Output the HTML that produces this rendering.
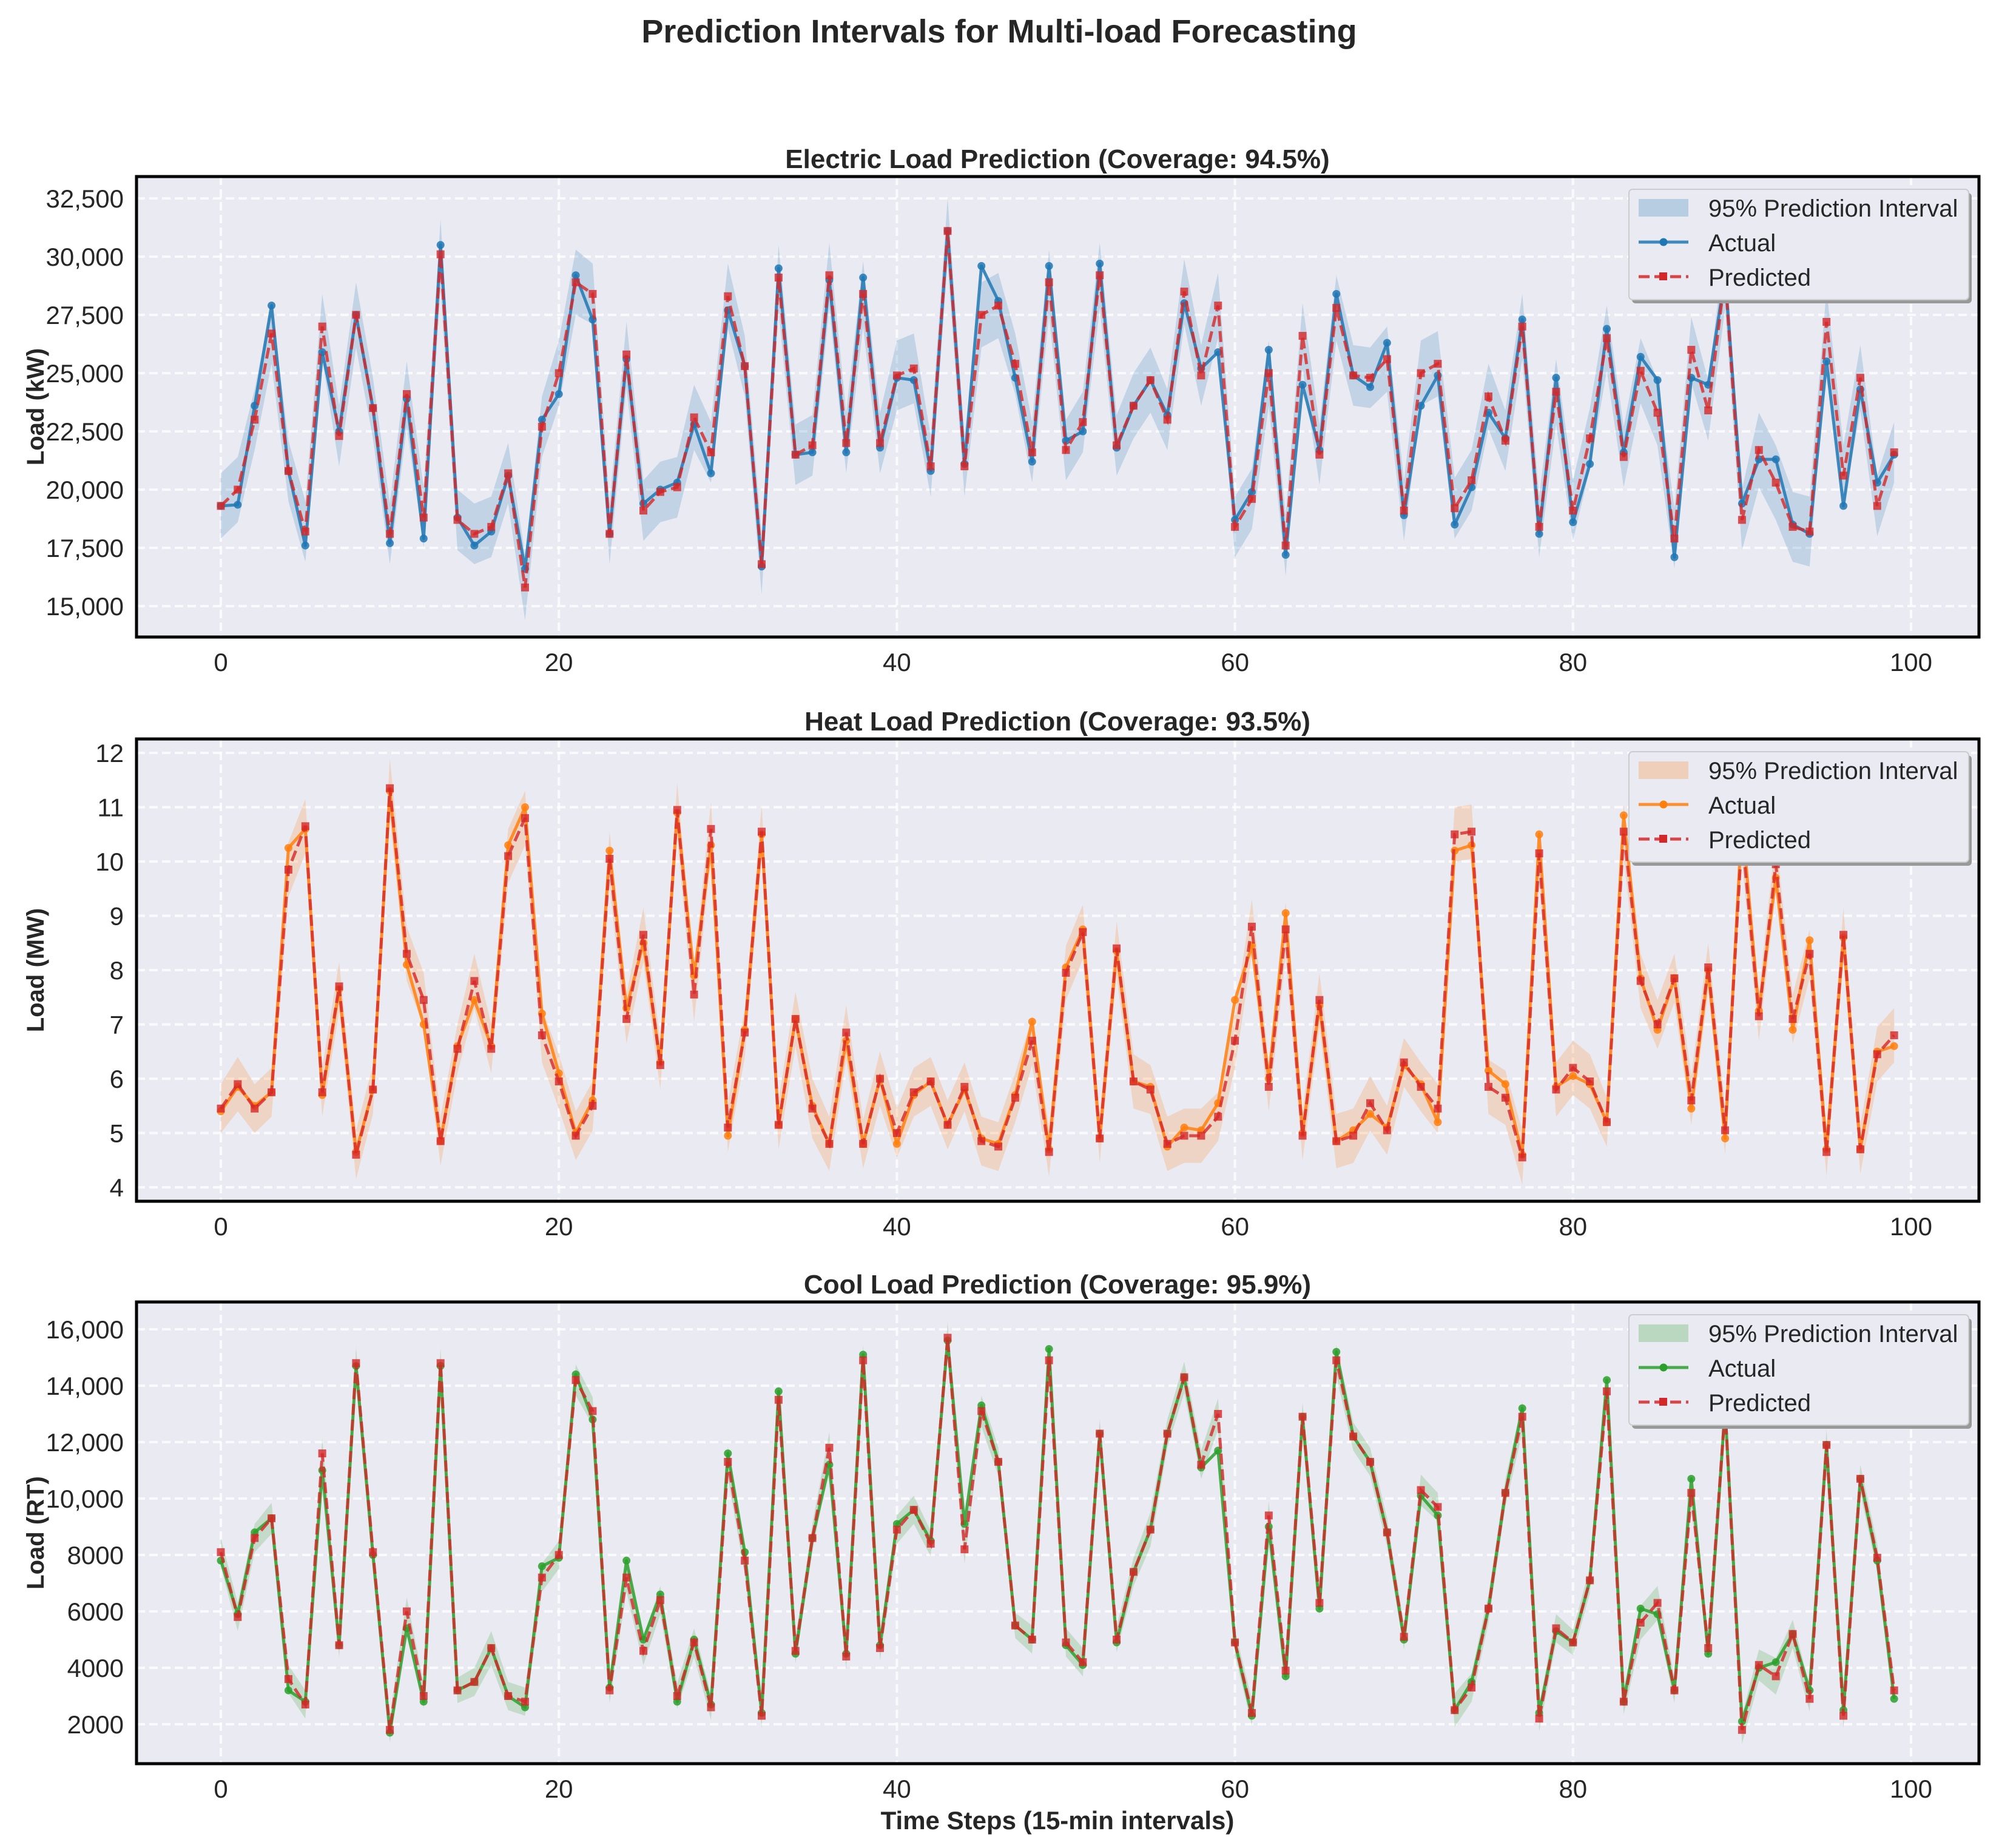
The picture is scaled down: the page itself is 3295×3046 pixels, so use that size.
<!DOCTYPE html>
<html><head><meta charset="utf-8"><style>
html,body{margin:0;padding:0;background:#fff}
svg{display:block}
text{font-family:"Liberation Sans",Arial,sans-serif;fill:#262626}
</style></head><body>
<svg id="fig" width="3295" height="3046" viewBox="0 0 3295 3046" xmlns="http://www.w3.org/2000/svg">
<text x="1647" y="70" text-anchor="middle" font-size="54" font-weight="bold">Prediction Intervals for Multi-load Forecasting</text>
<text x="1743" y="3015" text-anchor="middle" font-size="42" font-weight="bold">Time Steps (15-min intervals)</text>
</svg>
<script>
const steps = Array.from({length:100},(_,i)=>i);
const xTicks = [0,20,40,60,80,100];

const elecActual = [19300,19350,23600,27900,20800,17600,25900,22500,27500,23500,17700,23900,17900,30500,18800,17600,18200,20600,16600,23000,24100,29200,27300,18100,25600,19400,20000,20300,22800,20700,27700,25300,16700,29500,21500,21600,29000,21600,29100,21800,24800,24700,20800,31100,21100,29600,28100,24800,21200,29600,22100,22500,29700,21800,23600,24700,23200,28000,25200,25900,18700,19900,26000,17200,24500,21700,28400,24900,24400,26300,18900,23600,24900,18500,20100,23300,22200,27300,18100,24800,18600,21100,26900,21600,25700,24700,17100,24800,24500,29200,19400,21300,21300,18500,18100,25500,19300,24300,20300,21500];
const elecPred = [19300,20000,23000,26700,20800,18200,27000,22300,27500,23500,18100,24100,18800,30100,18700,18100,18400,20700,15800,22700,25000,28900,28400,18100,25800,19100,19900,20100,23100,21600,28300,25300,16800,29100,21500,21900,29200,22000,28400,22000,24900,25200,21000,31100,21000,27500,27900,25400,21600,28900,21700,22900,29200,21900,23600,24700,23000,28500,24900,27900,18400,19600,25000,17600,26600,21500,27800,24900,24800,25600,19100,25000,25400,19200,20400,24000,22100,27000,18400,24200,19100,22200,26500,21400,25100,23300,17900,26000,23400,29200,18700,21700,20300,18400,18200,27200,20600,24800,19300,21600];
const elecBand = [1400,1400,1300,1300,1300,1300,1400,1300,1400,1300,1300,1400,1300,1500,1300,1300,1300,1300,1400,1300,1400,1400,1300,1300,1400,1300,1300,1300,1400,1300,1400,1300,1300,1400,1300,1300,1400,1300,1400,1300,1500,1500,1300,1400,1300,1400,1400,1300,1300,1400,1300,1300,1400,1300,1400,1400,1300,1400,1300,1400,1300,1300,1400,1300,1400,1300,1400,1300,1300,1400,1300,1400,1400,1300,1300,1400,1300,1400,1300,1400,1300,1300,1400,1300,1400,1400,1300,1400,1300,1400,1300,1600,1600,1500,1500,1400,1300,1400,1300,1300];

const heatActual = [5.4,5.85,5.5,5.75,10.25,10.6,5.7,7.65,4.65,5.8,11.3,8.1,7.0,4.85,6.6,7.45,6.6,10.3,11.0,7.2,6.1,5.0,5.6,10.2,7.3,8.5,6.3,10.9,7.9,10.3,4.95,6.9,10.5,5.15,7.1,5.5,4.8,6.7,4.8,6.0,4.8,5.7,5.95,5.15,5.8,4.9,4.8,5.7,7.05,4.7,8.05,8.75,4.9,8.35,5.95,5.85,4.75,5.1,5.05,5.55,7.45,8.45,6.0,9.05,5.0,7.35,4.85,5.05,5.35,5.1,6.25,5.9,5.2,10.2,10.3,6.15,5.9,4.6,10.5,5.85,6.05,5.9,5.2,10.85,7.85,6.9,7.85,5.45,8.0,4.9,10.8,7.25,9.7,6.9,8.55,4.7,8.6,4.7,6.5,6.6];
const heatPred = [5.45,5.9,5.45,5.75,9.85,10.65,5.75,7.7,4.6,5.8,11.35,8.3,7.45,4.85,6.55,7.8,6.55,10.1,10.8,6.8,5.95,4.95,5.5,10.05,7.1,8.65,6.25,10.95,7.55,10.6,5.1,6.85,10.55,5.15,7.1,5.45,4.8,6.85,4.8,6.0,5.0,5.75,5.95,5.15,5.85,4.85,4.75,5.65,6.7,4.65,7.95,8.7,4.9,8.4,5.95,5.8,4.8,4.95,4.95,5.3,6.7,8.8,5.85,8.75,4.95,7.45,4.85,4.95,5.55,5.05,6.3,5.85,5.45,10.5,10.55,5.85,5.65,4.55,10.15,5.8,6.2,5.95,5.2,10.55,7.8,7.0,7.85,5.6,8.05,5.05,10.5,7.15,9.95,7.1,8.3,4.65,8.65,4.7,6.45,6.8];
const heatBand = [0.45,0.5,0.45,0.45,0.5,0.5,0.45,0.45,0.45,0.45,0.55,0.5,0.5,0.45,0.45,0.5,0.45,0.5,0.5,0.5,0.5,0.45,0.45,0.5,0.45,0.5,0.45,0.5,0.5,0.5,0.45,0.45,0.5,0.45,0.5,0.55,0.5,0.5,0.45,0.5,0.45,0.45,0.45,0.45,0.45,0.45,0.45,0.45,0.45,0.45,0.5,0.5,0.45,0.5,0.5,0.45,0.5,0.5,0.5,0.45,0.5,0.5,0.45,0.5,0.45,0.5,0.5,0.5,0.5,0.45,0.45,0.45,0.45,0.5,0.5,0.5,0.5,0.5,0.5,0.5,0.5,0.5,0.45,0.5,0.5,0.45,0.45,0.45,0.45,0.45,0.5,0.45,0.5,0.45,0.45,0.45,0.5,0.45,0.5,0.5];

const coolActual = [7800,5900,8800,9300,3200,2800,11000,4800,14700,8000,1700,5400,2800,14700,3200,3500,4700,3000,2600,7600,7900,14400,12800,3300,7800,5000,6600,2800,5000,2700,11600,8100,2400,13800,4500,8600,11200,4500,15100,4800,9100,9600,8500,15600,9100,13300,11300,5500,5000,15300,4800,4100,12300,4900,7400,8900,12300,14300,11100,11700,4900,2300,9000,3700,12900,6100,15200,12200,11300,8800,5000,10100,9400,2500,3500,6100,10200,13200,2400,5300,4900,7100,14200,2800,6100,5900,3200,10700,4500,13200,2100,4000,4200,5200,3200,11900,2500,10700,7800,2900];
const coolPred = [8100,5800,8600,9300,3600,2700,11600,4800,14800,8100,1800,6000,3000,14800,3200,3500,4700,3000,2800,7200,8000,14200,13100,3200,7200,4600,6400,3000,4900,2600,11300,7800,2300,13500,4600,8600,11800,4400,14900,4700,8900,9600,8400,15700,8200,13100,11300,5500,5000,14900,4900,4200,12300,5000,7400,8900,12300,14300,11200,13000,4900,2400,9400,3900,12900,6300,14900,12200,11300,8800,5100,10300,9700,2500,3300,6100,10200,12900,2200,5400,4900,7100,13800,2800,5600,6300,3200,10200,4700,13200,1800,4100,3700,5200,2900,11900,2300,10700,7900,3200];
const coolBand = [500,500,500,550,500,500,550,450,550,500,450,500,450,550,450,500,600,500,500,500,500,550,500,450,500,500,500,450,500,450,550,500,450,550,450,500,550,450,550,450,500,500,450,550,500,550,500,450,500,550,500,500,500,450,500,600,500,550,500,550,450,450,500,450,500,450,550,500,500,500,450,550,500,600,500,500,500,550,450,500,450,450,550,450,600,600,450,500,450,550,500,550,650,500,450,550,450,500,500,450];

const NS='http://www.w3.org/2000/svg';
const svg=document.getElementById('fig');
const L=225,R=3262;
function xPos(i){return 364+i*27.86;}
function mk(tag,attrs,parent){const e=document.createElementNS(NS,tag);for(const k in attrs)e.setAttribute(k,attrs[k]);(parent||svg).appendChild(e);return e;}

function panel(o){
  const g=mk('g',{});
  
  
  const y=v=>o.y0-(v-o.v0)*o.k;
  const bg=mk('rect',{x:L,y:o.top,width:R-L,height:o.bot-o.top,fill:'#EAEAF2'},g);
  
  
  const clip=mk('clipPath',{id:'c'+o.key},g);
  mk('rect',{x:L,y:o.top,width:R-L,height:o.bot-o.top},clip);
  xTicks.forEach(t=>{
    const ln=mk('line',{x1:xPos(t),x2:xPos(t),y1:o.top,y2:o.bot,stroke:'#fff','stroke-width':4,'stroke-dasharray':'14,7',opacity:0.8},g);
    
    
    const tx=mk('text',{x:xPos(t),y:o.bot+56,'text-anchor':'middle','font-size':42},g);
    tx.textContent=t;
    
    
  });
  o.yTicks.forEach((t,j)=>{
    const ln=mk('line',{x1:L,x2:R,y1:y(t),y2:y(t),stroke:'#fff','stroke-width':4,'stroke-dasharray':'14,7',opacity:0.8},g);
    
    
    const tx=mk('text',{x:204,y:y(t)+15,'text-anchor':'end','font-size':42},g);
    tx.textContent=o.yLabels[j];
    
    
  });
  const dg=mk('g',{'clip-path':'url(#c'+o.key+')'},g);
  let up=[],lo=[];
  steps.forEach(i=>{up.push(xPos(i)+','+y(o.pred[i]+o.band[i]));lo.unshift(xPos(i)+','+y(o.pred[i]-o.band[i]));});
  const band=mk('polygon',{points:up.concat(lo).join(' '),fill:o.color,'fill-opacity':0.2,stroke:'none'},dg);
  
  
  const pa=steps.map(i=>xPos(i)+','+y(o.actual[i])).join(' ');
  const al=mk('polyline',{points:pa,fill:'none',stroke:o.color,'stroke-width':5,'stroke-opacity':0.85,'stroke-linejoin':'round'},dg);
  
  
  steps.forEach(i=>{
    const c=mk('circle',{cx:xPos(i),cy:y(o.actual[i]),r:6.5,fill:o.color,'fill-opacity':0.85},dg);
    
    
  });
  const pp=steps.map(i=>xPos(i)+','+y(o.pred[i])).join(' ');
  const pl=mk('polyline',{points:pp,fill:'none',stroke:'#d62728','stroke-width':5,'stroke-opacity':0.8,'stroke-dasharray':'18,8'},dg);
  
  
  steps.forEach(i=>{
    const s=mk('rect',{x:xPos(i)-6.5,y:y(o.pred[i])-6.5,width:13,height:13,fill:'#d62728','fill-opacity':0.8},dg);
    
    
  });
  const fr=mk('rect',{x:L,y:o.top,width:R-L,height:o.bot-o.top,fill:'none',stroke:'#000','stroke-width':5},g);
  
  
  const tt=mk('text',{x:1743,y:o.top-14,'text-anchor':'middle','font-size':44,'font-weight':'bold'},g);
  tt.textContent=o.title;
  
  
  const cy=(o.top+o.bot)/2;
  const yl=mk('text',{x:72,y:cy,'text-anchor':'middle','font-size':40,'font-weight':'bold',transform:'rotate(-90 72 '+cy+')'},g);
  yl.textContent=o.ylabel;
  
  
  const lt=o.top+21;
  const lg=mk('g',{},g);
  
  
  mk('rect',{x:2690,y:lt+6,width:560,height:182,rx:6,fill:'#999'},lg);
  mk('rect',{x:2685,y:lt,width:560,height:182,rx:6,fill:'#EAEAF2',stroke:'#ccc','stroke-width':2},lg);
  const e1=mk('rect',{x:2701,y:lt+16,width:82,height:29,fill:o.color,'fill-opacity':0.25},lg);
  
  
  mk('line',{x1:2701,x2:2783,y1:lt+87,y2:lt+87,stroke:o.color,'stroke-width':5,'stroke-opacity':0.85},lg);
  mk('circle',{cx:2742,cy:lt+87,r:6.5,fill:o.color},lg);
  mk('line',{x1:2701,x2:2783,y1:lt+144,y2:lt+144,stroke:'#d62728','stroke-width':5,'stroke-dasharray':'18,8','stroke-opacity':0.85},lg);
  mk('rect',{x:2735,y:lt+137,width:13,height:13,fill:'#d62728'},lg);
  [['95% Prediction Interval',lt+45],['Actual',lt+102],['Predicted',lt+159]].forEach(a=>{
    const t=mk('text',{x:2816,y:a[1],'font-size':40},lg);
    t.textContent=a[0];
    
    
  });
}

panel({key:'electric',top:291,bot:1050,y0:999,v0:15000,k:96/2500,color:'#1f77b4',
  actual:elecActual,pred:elecPred,band:elecBand,
  yTicks:[15000,17500,20000,22500,25000,27500,30000,32500],
  yLabels:['15,000','17,500','20,000','22,500','25,000','27,500','30,000','32,500'],
  title:'Electric Load Prediction (Coverage: 94.5%)',ylabel:'Load (kW)'});
panel({key:'heat',top:1218,bot:1980,y0:1957,v0:4,k:89.5,color:'#ff7f0e',
  actual:heatActual,pred:heatPred,band:heatBand,
  yTicks:[4,5,6,7,8,9,10,11,12],yLabels:['4','5','6','7','8','9','10','11','12'],
  title:'Heat Load Prediction (Coverage: 93.5%)',ylabel:'Load (MW)'});
panel({key:'cool',top:2146,bot:2907,y0:2842,v0:2000,k:93/2000,color:'#2ca02c',
  actual:coolActual,pred:coolPred,band:coolBand,
  yTicks:[2000,4000,6000,8000,10000,12000,14000,16000],
  yLabels:['2000','4000','6000','8000','10,000','12,000','14,000','16,000'],
  title:'Cool Load Prediction (Coverage: 95.9%)',ylabel:'Load (RT)'});
</script>
</body></html>
